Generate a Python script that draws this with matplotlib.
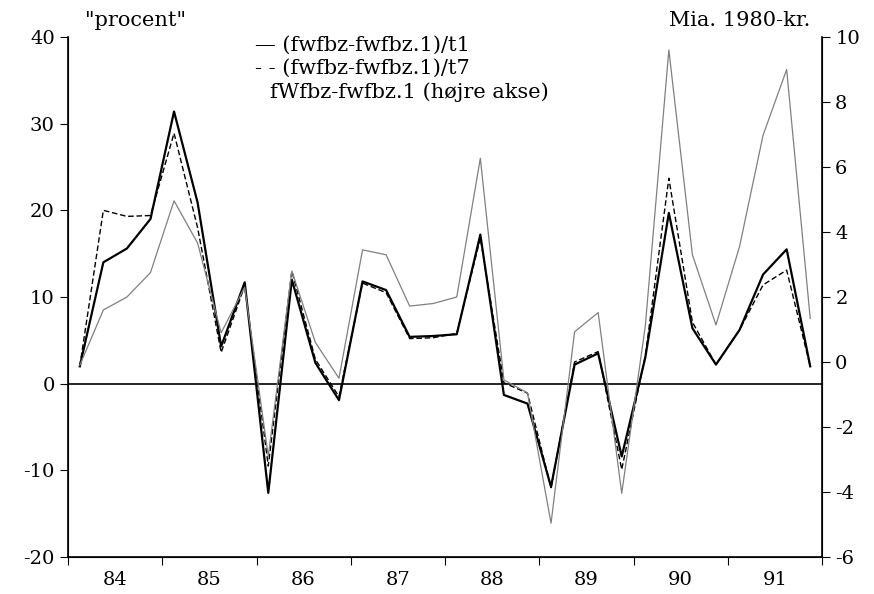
import numpy as np
import matplotlib
matplotlib.use("Agg")
import matplotlib.pyplot as plt

plt.rcParams["font.family"] = "DejaVu Serif"

# quarters 1984Q1 - 1991Q4
years = [84, 85, 86, 87, 88, 89, 90, 91]
quarter_pos = [y + (q - 0.5) / 4 for y in years for q in range(1, 5)]

# (fwfbz-fwfbz.1)/t1, percent
growth_t1 = [2.0, 14.0, 15.6, 19.0, 31.4, 20.9, 4.3, 11.7,
             -12.6, 12.0, 2.4, -1.9, 11.8, 10.8, 5.4, 5.5,
             5.7, 17.2, -1.3, -2.3, -11.9, 2.2, 3.5, -8.4,
             3.0, 19.7, 6.4, 2.2, 6.2, 12.6, 15.5, 2.0]

# (fwfbz-fwfbz.1)/t7, percent
growth_t7 = [2.0, 20.0, 19.3, 19.4, 28.9, 18.0, 3.6, 11.3,
             -9.5, 13.0, 2.8, -1.5, 11.6, 10.5, 5.2, 5.3,
             5.8, 16.8, 0.1, -1.1, -12.0, 2.5, 3.7, -9.9,
             3.2, 23.7, 7.1, 2.2, 6.2, 11.4, 13.1, 2.0]

# fWfbz-fwfbz.1, bn. 1980-kr (right axis)
diff_level = [-0.1, 1.6, 2.0, 2.75, 4.96, 3.66, 0.9, 2.3,
              -2.9, 2.8, 0.6, -0.5, 3.45, 3.3, 1.72, 1.8,
              2.0, 6.27, -0.55, -0.95, -4.96, 0.93, 1.52, -4.04,
              1.1, 9.6, 3.3, 1.14, 3.55, 6.98, 9.0, 1.34]

left_ticks = [-20, -10, 0, 10, 20, 30, 40]
right_ticks = [-6, -4, -2, 0, 2, 4, 6, 8, 10]

fig = plt.figure(figsize=(8.74, 5.94), dpi=100)
ax = fig.add_axes([68 / 874, 37 / 594, (822 - 68) / 874, (557 - 37) / 594])
ax2 = ax.twinx()

ax.plot(quarter_pos, growth_t1, color="black", lw=1.6)
ax.plot(quarter_pos, growth_t7, color="black", lw=1.0, ls=(0, (4, 2)))
ax2.plot(quarter_pos, diff_level, color="0.5", lw=0.9)
ax.axhline(0, color="black", lw=1.2)

ax.set_xlim(84, 92)
ax.set_ylim(-20, 40)
ax2.set_ylim(-6, 10)

ax.set_yticks(left_ticks)
ax.set_yticklabels([str(v) for v in left_ticks])
ax2.set_yticks(right_ticks)
ax2.set_yticklabels([str(v) for v in right_ticks])

# year boundaries as ticks, labels in the middle
ax.set_xticks(years + [92])
ax.set_xticklabels([])
ax.set_xticks([y + 0.5 for y in years], minor=True)
ax.set_xticklabels([str(y) for y in years], minor=True)
ax.tick_params(axis="x", which="minor", length=0, labelsize=14, pad=10)
ax.tick_params(axis="x", which="major", length=6, direction="out")
ax.tick_params(axis="y", labelsize=14, length=6, direction="out")
ax2.tick_params(axis="y", labelsize=14, length=6, direction="out")

for a in (ax, ax2):
    a.spines["top"].set_visible(False)
ax.spines["left"].set_linewidth(1.2)
ax2.spines["right"].set_linewidth(1.2)
ax.spines["bottom"].set_linewidth(1.2)

fig.text(85 / 874, 1 - 20 / 594, '"procent"', fontsize=15, va="center")
fig.text(810 / 874, 1 - 20 / 594, "Mia. 1980-kr.", fontsize=15, va="center", ha="right")

fig.text(255 / 874, 1 - 45 / 594, "\u2014 (fwfbz-fwfbz.1)/t1", fontsize=15, va="center")
fig.text(255 / 874, 1 - 68 / 594, "- - (fwfbz-fwfbz.1)/t7", fontsize=15, va="center")
fig.text(270 / 874, 1 - 92 / 594, "fWfbz-fwfbz.1 (højre akse)", fontsize=15, va="center")

fig.savefig("out.png", dpi=100)
